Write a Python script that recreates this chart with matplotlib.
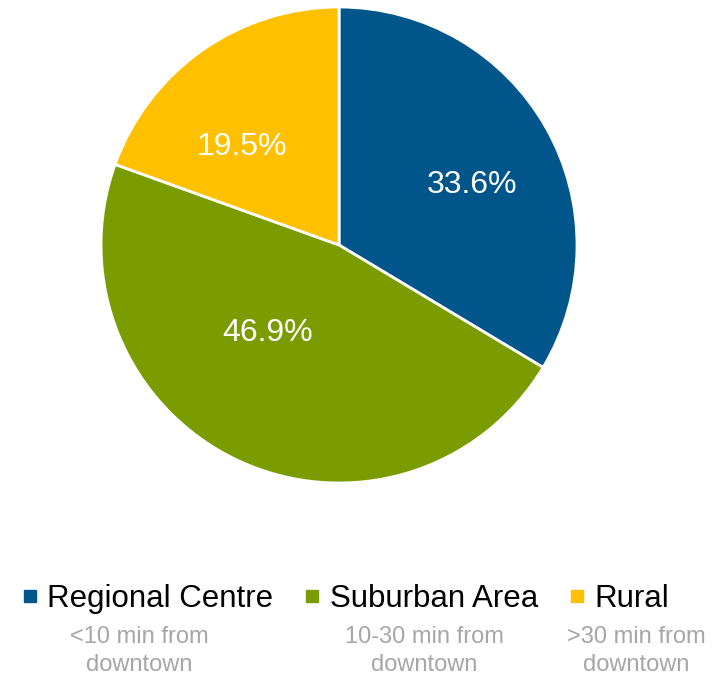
import matplotlib.pyplot as plt
from matplotlib.lines import Line2D

plt.rcParams['font.family'] = ['Liberation Sans', 'DejaVu Sans']

# Data
categories = ["Regional Centre", "Suburban Area", "Rural"]
shares = [33.6, 46.9, 19.5]
subtitles = ["<10 min from\ndowntown", "10-30 min from\ndowntown", ">30 min from\ndowntown"]
colors = ["#00568B", "#7A9C00", "#FFC000"]

# label positions inside the pie (radius 1)
label_pos = [(0.56, 0.25), (-0.30, -0.37), (-0.41, 0.41)]

fig = plt.figure(figsize=(7.2, 6.78), dpi=100)
ax = fig.add_axes([0.1403, 0.2876, 0.6611, 0.7021])

wedges, texts, autotexts = ax.pie(
    shares, colors=colors, startangle=90, counterclock=False,
    autopct="%.1f%%", wedgeprops=dict(edgecolor="white", linewidth=2),
    textprops=dict(color="white", fontsize=23))
for t, pos in zip(autotexts, label_pos):
    t.set_position(pos)
ax.set_xlim(-1, 1)
ax.set_ylim(-1, 1)
ax.set_aspect("equal")

# Legend
handles = [Line2D([], [], marker="s", linestyle="none", markersize=8,
                  markerfacecolor=c, markeredgecolor=c) for c in colors]
fig.legend(handles, categories, loc="center", bbox_to_anchor=(0.48, 0.116),
           ncol=3, frameon=False, fontsize=22.5, handlelength=0.5,
           handletextpad=0.3, columnspacing=1.0)

sub_x = [139, 424, 636]
for x, s in zip(sub_x, subtitles):
    fig.text(x / 720, 1 - 651 / 678, s, ha="center", va="center",
             fontsize=17, color="#A6A6A6", linespacing=1.32)

fig.savefig("out.png", dpi=100)
